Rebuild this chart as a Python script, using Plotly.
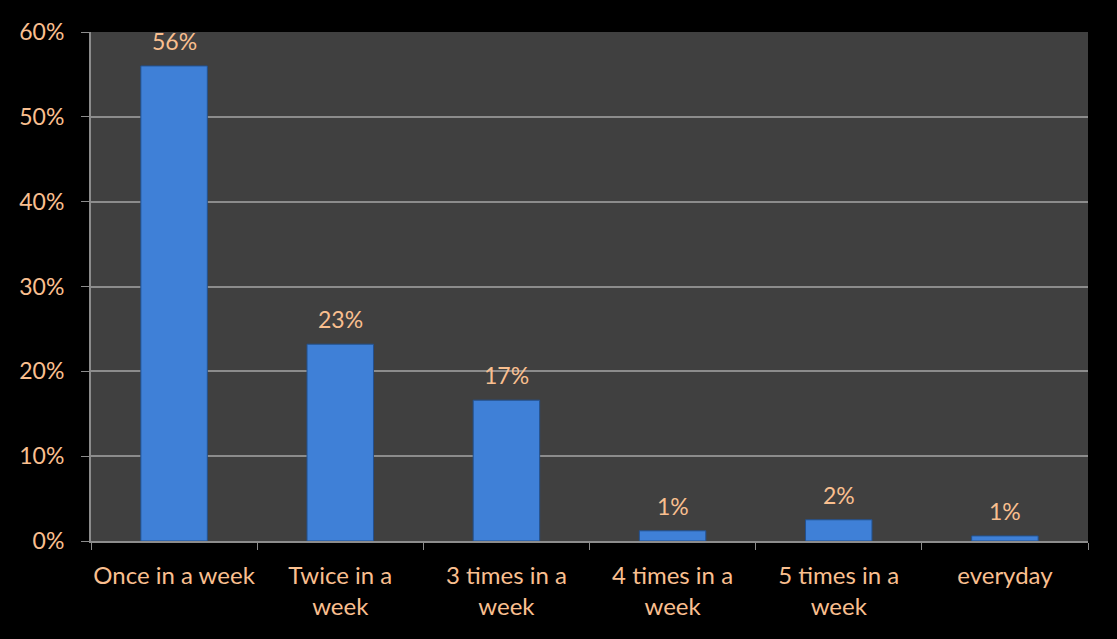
import plotly.graph_objects as go

categories = ["Once in a week", "Twice in a<br>week", "3 times in a<br>week",
              "4 times in a<br>week", "5 times in a<br>week", "everyday"]
values = [56.0, 23.2, 16.6, 1.2, 2.5, 0.6]
labels = ["56%", "23%", "17%", "1%", "2%", "1%"]
y_ticks = [0, 10, 20, 30, 40, 50, 60]
y_tick_labels = ["0%", "10%", "20%", "30%", "40%", "50%", "60%"]

peach = "#F9BF8F"
font_family = "Lato, 'Open Sans', sans-serif"

fig = go.Figure()
fig.add_trace(go.Bar(
    x=categories, y=values,
    marker=dict(color="#3F80D7", line=dict(color="#23518F", width=1)),
    width=0.4,
    cliponaxis=False,
    hoverinfo="skip",
))

for c, v, t in zip(categories, values, labels):
    fig.add_annotation(
        x=c, y=v, text=t, showarrow=False,
        yanchor="middle", yshift=25,
        font=dict(color=peach, size=23, family=font_family),
    )

L, R, T, B = 91, 29, 32, 98
W, H = 1117, 639

fig.update_layout(
    width=W, height=H,
    margin=dict(l=L, r=R, t=T, b=B),
    paper_bgcolor="black",
    plot_bgcolor="#404040",
    showlegend=False,
    font=dict(family=font_family, color=peach, size=23),
    xaxis=dict(
        tickson="boundaries", ticks="outside", ticklen=7, tickcolor="#8C8C8C",
        showline=True, linecolor="#8C8C8C", linewidth=2,
        showgrid=False, tickfont=dict(size=24, color=peach),
        range=[-0.5, 5.5], ticklabelstandoff=12, tickangle=0, automargin=False,
    ),
    yaxis=dict(
        range=[0, 60], tickvals=y_ticks, ticktext=y_tick_labels,
        ticks="outside", ticklen=8, tickcolor="#8C8C8C",
        showline=True, linecolor="#8C8C8C", linewidth=2,
        showgrid=True, gridcolor="#8C8C8C", gridwidth=1.5,
        zeroline=False, tickfont=dict(size=23, color=peach),
        ticklabelstandoff=12, automargin=False,
    ),
)

fig.write_html("out.html")
